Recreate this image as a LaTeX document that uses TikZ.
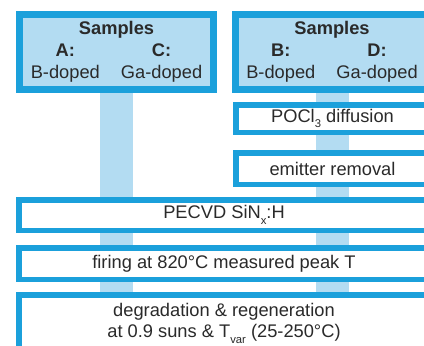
\documentclass[tikz,border=0pt]{standalone}
\usepackage{fontspec}
\setmainfont{Liberation Sans}
\usetikzlibrary{positioning,backgrounds}
\definecolor{flowBlue}{HTML}{1BA0DB}
\definecolor{flowLight}{HTML}{B3DCF2}
\definecolor{flowText}{HTML}{2A2A2A}
\newcommand{\lowsub}[1]{\raisebox{-0.32em}{\fontsize{8}{8}\selectfont #1}}
\tikzset{
  samplebox/.style={draw=flowBlue, fill=flowLight, line width=0.175cm,
        minimum height=1.875cm, inner sep=0pt, text=flowText,
        font=\fontsize{13}{16}\selectfont},
  stepbox/.style={draw=flowBlue, fill=white, line width=0.1375cm,
        inner sep=0pt, align=center, text=flowText,
        font=\fontsize{13}{15}\selectfont},
  band/.style={draw=flowLight, line width=0.825cm}
}

\begin{document}
\begin{tikzpicture}
\path[use as bounding box, clip] (0,0) rectangle (10.6,8.625);

% sample groups
\node[samplebox, minimum width=4.85cm] (sampAC) at (2.9125,7.325) {%
  \setlength{\tabcolsep}{7.5pt}%
  \begin{tabular}{cc}
    \multicolumn{2}{c}{\textbf{Samples}}\\
    \textbf{A:} & \textbf{C:}\\
    B-doped & Ga-doped
  \end{tabular}};
\node[samplebox, minimum width=4.825cm] (sampBD) at (8.3,7.325) {%
  \setlength{\tabcolsep}{7.5pt}%
  \begin{tabular}{cc}
    \multicolumn{2}{c}{\textbf{Samples}}\\
    \textbf{B:} & \textbf{D:}\\
    B-doped & Ga-doped
  \end{tabular}};

% process steps
\node[stepbox, minimum width=4.8375cm, minimum height=0.6875cm] (pocl) at (8.3125,5.6625)
  {POCl\lowsub{3} diffusion};
\node[stepbox, minimum width=4.8375cm, minimum height=0.7875cm] (emit) at (8.3125,4.4125)
  {emitter removal};
\node[stepbox, minimum width=10.2625cm, minimum height=0.7625cm] (pecvd) at (5.6,3.25)
  {PECVD SiN\lowsub{x}:H};
\node[stepbox, minimum width=10.2625cm, minimum height=0.7875cm] (firing) at (5.6,2.0375)
  {firing at 820°C measured peak T};
\node[stepbox, minimum width=10.2625cm, minimum height=1.4125cm] (degr) at (5.6,0.55)
  {degradation \& regeneration\\at 0.9 suns \& T\lowsub{var} (25-250°C)};

% sample flow bands
\begin{scope}[on background layer]
  \draw[band] (sampAC.south) -- (sampAC.south |- degr.north);
  \draw[band] (sampBD.south) -- (sampBD.south |- degr.north);
\end{scope}
\end{tikzpicture}
\end{document}
